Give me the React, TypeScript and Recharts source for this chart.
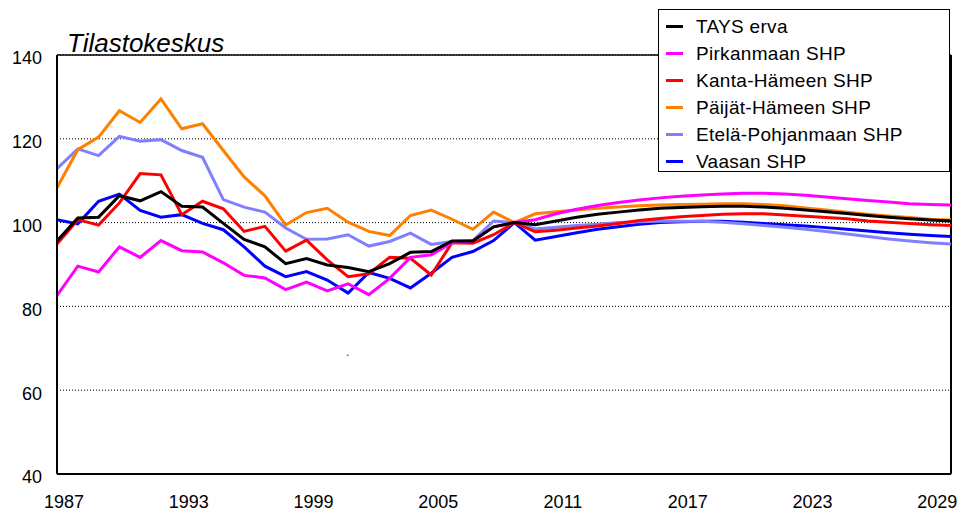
import React from 'react';
import { LineChart, Line, XAxis, YAxis, CartesianGrid, ReferenceLine, Legend } from 'recharts';

const years = [
  1987, 1988, 1989, 1990, 1991, 1992, 1993, 1994, 1995, 1996, 1997,
  1998, 1999, 2000, 2001, 2002, 2003, 2004, 2005, 2006, 2007, 2008,
  2009, 2010, 2011, 2012, 2013, 2014, 2015, 2016, 2017, 2018, 2019,
  2020, 2021, 2022, 2023, 2024, 2025, 2026, 2027, 2028, 2029, 2030,
];

// index, 2009 = 100
const tays = [
  95.6, 101.1, 101.3, 106.4, 105.2, 107.4, 103.9, 103.7, 99.8, 96.0, 94.2, 90.2, 91.4, 89.9,
  89.3, 88.3, 90.2, 92.9, 93.1, 95.6, 95.6, 99.0, 100, 99.5,
  100.4, 101.3, 102.0, 102.5, 103.0, 103.4, 103.6, 103.8, 103.9, 103.9,
  103.7, 103.4, 103.0, 102.6, 102.2, 101.7, 101.3, 100.9, 100.6, 100.4,
];
const pirkanmaa = [
  82.6, 89.6, 88.2, 94.2, 91.7, 95.7, 93.3, 93.0, 90.4, 87.4, 86.8, 84.0, 85.8, 83.7,
  85.4, 82.8, 86.7, 91.7, 92.3, 95.2, 95.6, 99.0, 100, 100.7,
  102.1, 103.2, 104.1, 104.8, 105.4, 105.9, 106.3, 106.6, 106.8, 107.0,
  107.0, 106.8, 106.5, 106.1, 105.7, 105.3, 104.9, 104.5, 104.3, 104.2,
];
const kantaHame = [
  94.9, 100.7, 99.4, 104.7, 111.7, 111.4, 101.9, 105.1, 103.3, 97.9, 99.1, 93.2, 95.8, 91.1,
  87.1, 87.8, 91.7, 91.5, 87.5, 95.2, 95.1, 97.1, 100, 97.8,
  98.2, 98.7, 99.2, 99.8, 100.5, 101.0, 101.4, 101.7, 102.0, 102.1,
  102.1, 101.8, 101.5, 101.2, 100.9, 100.4, 100.1, 99.8, 99.5, 99.3,
];
const paijatHame = [
  108.3, 117.4, 120.4, 126.7, 123.9, 129.5, 122.4, 123.6, 117.2, 110.9, 106.4, 99.4, 102.4, 103.4,
  100.1, 97.9, 96.9, 101.7, 103.0, 100.8, 98.4, 102.5, 100, 102.1,
  102.6, 103.0, 103.4, 103.7, 104.0, 104.2, 104.3, 104.4, 104.5, 104.5,
  104.3, 104.0, 103.5, 103.0, 102.5, 102.0, 101.6, 101.2, 100.8, 100.6,
];
const etelaPohjanmaa = [
  112.9, 117.6, 116.0, 120.6, 119.4, 119.8, 117.2, 115.6, 105.5, 103.7, 102.5, 98.7, 96.0, 96.1,
  97.1, 94.4, 95.5, 97.5, 94.8, 95.5, 95.7, 100.4, 100, 98.5,
  98.9, 99.3, 99.6, 100.0, 100.2, 100.3, 100.3, 100.3, 100.1, 99.7,
  99.3, 98.9, 98.4, 97.9, 97.3, 96.7, 96.1, 95.6, 95.2, 94.9,
];
const vaasa = [
  100.7, 99.7, 105.1, 106.8, 102.9, 101.3, 101.9, 99.8, 98.3, 94.2, 89.6, 87.1, 88.3, 86.3,
  83.2, 88.1, 86.7, 84.4, 87.9, 91.7, 93.1, 95.7, 100, 95.8,
  96.7, 97.6, 98.4, 99.0, 99.6, 100.0, 100.2, 100.3, 100.3, 100.1,
  99.8, 99.5, 99.2, 98.8, 98.4, 98.0, 97.6, 97.2, 96.9, 96.7,
];

const xTicks = [1987, 1993, 1999, 2005, 2011, 2017, 2023, 2029];
const yTicks = [40, 60, 80, 100, 120, 140];

// legend order
const SERIES = [
  { key: 'tays', name: 'TAYS erva', color: '#000000' },
  { key: 'pirkanmaa', name: 'Pirkanmaan SHP', color: '#FF00FF' },
  { key: 'kantaHame', name: 'Kanta-Hämeen SHP', color: '#FF0000' },
  { key: 'paijatHame', name: 'Päijät-Hämeen SHP', color: '#FF8000' },
  { key: 'etelaPohjanmaa', name: 'Etelä-Pohjanmaan SHP', color: '#8080FF' },
  { key: 'vaasa', name: 'Vaasan SHP', color: '#0000FF' },
];

const data = years.map((year, i) => ({
  year,
  tays: tays[i],
  pirkanmaa: pirkanmaa[i],
  kantaHame: kantaHame[i],
  paijatHame: paijatHame[i],
  etelaPohjanmaa: etelaPohjanmaa[i],
  vaasa: vaasa[i],
}));

const FONT = "'Liberation Sans', Arial, sans-serif";

const LegendBox = () => (
  <div
    style={{
      width: 292,
      height: 163,
      boxSizing: 'border-box',
      border: '1.5px solid #000',
      background: '#fff',
      paddingTop: 3,
    }}
  >
    {SERIES.map((s) => (
      <div key={s.key} style={{ display: 'flex', alignItems: 'center', height: 27 }}>
        <div style={{ width: 17, height: 3, background: s.color, marginLeft: 7, marginRight: 13 }} />
        <span style={{ fontSize: 19, letterSpacing: 0.3, color: '#000', fontFamily: FONT }}>{s.name}</span>
      </div>
    ))}
  </div>
);

const App: React.FC = () => {
  // draw order: TAYS on top
  const drawOrder = [...SERIES].reverse();

  return (
    <div style={{ position: 'absolute', left: 0, top: 0, width: 959, height: 511, fontFamily: FONT, background: '#fff' }}>
      <LineChart width={959} height={511} data={data} margin={{ top: 55, right: 8, bottom: 7, left: 0 }}>
        <CartesianGrid vertical={false} stroke="#000" strokeDasharray="1 2" />
        <XAxis
          dataKey="year"
          type="number"
          domain={[1987, 2030]}
          ticks={xTicks}
          interval={0}
          height={30}
          tickLine={false}
          tickMargin={15}
          axisLine={{ stroke: '#000', strokeWidth: 2 }}
          tick={{ fontSize: 18, fill: '#000', dx: 7 }}
        />
        <YAxis
          domain={[40, 140]}
          ticks={yTicks}
          width={57}
          tickLine={false}
          tickMargin={9}
          axisLine={{ stroke: '#000', strokeWidth: 2 }}
          tick={{ fontSize: 18, fill: '#000', dy: 3 }}
        />
        <ReferenceLine y={140} stroke="#000" strokeWidth={1.5} />
        <ReferenceLine x={2030} stroke="#000" strokeWidth={2} />
        {drawOrder.map((s) => (
          <Line
            key={s.key}
            type="linear"
            dataKey={s.key}
            name={s.name}
            stroke={s.color}
            strokeWidth={3}
            dot={false}
            isAnimationActive={false}
          />
        ))}
        <Legend
          layout="vertical"
          align="center"
          verticalAlign="middle"
          content={() => <LegendBox />}
          wrapperStyle={{ position: 'absolute', left: 658, top: 9, width: 292, height: 163 }}
        />
      </LineChart>
      <div
        style={{
          position: 'absolute',
          left: 67,
          top: 30,
          fontSize: 26,
          lineHeight: '26px',
          fontStyle: 'italic',
          color: '#000',
        }}
      >
        Tilastokeskus
      </div>
      <div style={{ position: 'absolute', left: 346, top: 346, fontSize: 12, lineHeight: '12px', color: '#333' }}>.</div>
    </div>
  );
};

export default App;
